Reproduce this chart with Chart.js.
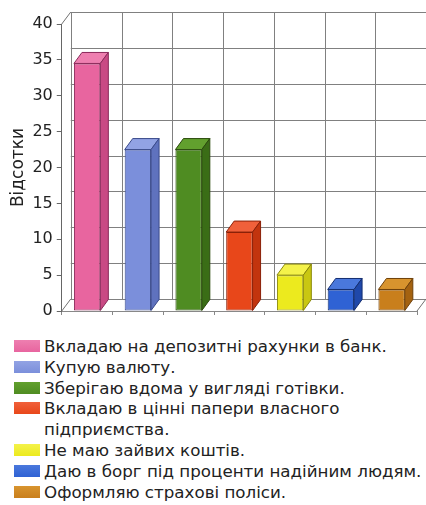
<!DOCTYPE html>
<html>
<head>
<meta charset="utf-8">
<script src="https://cdn.jsdelivr.net/npm/chart.js@4.4.0/dist/chart.umd.min.js"></script>
<style>
  body { margin: 0; background: #fff; font-family: "DejaVu Sans", sans-serif; }
  #wrap { width: 426px; height: 330px; }
  #legend { margin: 6px 0 0 14px; padding: 0; list-style: none; font-size: 16.7px; line-height: 20.8px; color: #222; white-space: nowrap; }
  #legend li { display: flex; align-items: flex-start; }
  #legend .sw { width: 26px; height: 12px; margin: 4px 4px 0 0; flex: none; }
</style>
</head>
<body>
<div id="wrap"><canvas id="chart" width="426" height="330"></canvas></div>
<ul id="legend"></ul>
<script>
  const categories = [
    "Вкладаю на депозитні рахунки в банк.",
    "Купую валюту.",
    "Зберігаю вдома у вигляді готівки.",
    ["Вкладаю в цінні папери власного", "підприємства."],
    "Не маю зайвих коштів.",
    "Даю в борг під проценти надійним людям.",
    "Оформляю страхові поліси."
  ];
  const percents = [34.5, 22.5, 22.5, 11, 5, 3, 3];
  const yMin = 0, yMax = 40, yStep = 5;
  const yTitle = "Відсотки";

  const frontColors = ['#e8659f', '#7b8fdb', '#4f8c22', '#e8471a', '#ecea1e', '#2f62d4', '#c97f1c'];
  const sideColors  = ['#c94a84', '#5f72be', '#3a6d16', '#c2340e', '#c9c712', '#1f48aa', '#a46210'];
  const topColors   = ['#ee7fb0', '#92a3e4', '#62a02e', '#f0603a', '#f4f24a', '#4a78dc', '#d8942e'];
  const edgeColors  = ['#8a2a5a', '#3a4a8a', '#2a4a0c', '#8a2008', '#8a8808', '#142e70', '#6e400a'];

  const wall = { dx: 9, dy: -12 };
  const barDepth = { dx: 8, dy: -11 };

  function seg(ctx, x1, y1, x2, y2) {
    ctx.beginPath();
    ctx.moveTo(x1, y1);
    ctx.lineTo(x2, y2);
    ctx.stroke();
  }

  // back wall, floor and depth faces of the bars
  const box3d = {
    id: 'box3d',
    beforeDatasetsDraw(chart) {
      const { ctx, chartArea: a, scales: { x, y } } = chart;
      ctx.save();
      ctx.lineWidth = 1;
      ctx.strokeStyle = '#808080';
      y.ticks.forEach(t => {
        const py = Math.round(y.getPixelForValue(t.value) + wall.dy) + 0.5;
        seg(ctx, a.left + wall.dx, py, a.right + wall.dx, py);
      });
      for (let i = 0; i <= categories.length; i++) {
        const px = Math.round(x.getPixelForValue(i - 0.5) + wall.dx) + 0.5;
        seg(ctx, px, a.top + wall.dy, px, a.bottom + wall.dy);
      }
      ctx.strokeStyle = '#707070';
      seg(ctx, a.left, a.top, a.left + wall.dx, a.top + wall.dy);
      seg(ctx, a.left, a.bottom, a.left + wall.dx, a.bottom + wall.dy);
      seg(ctx, a.right, a.bottom, a.right + wall.dx, a.bottom + wall.dy);
      ctx.restore();
    },
    afterDatasetsDraw(chart) {
      const { ctx } = chart;
      const meta = chart.getDatasetMeta(0);
      ctx.save();
      ctx.lineWidth = 1;
      meta.data.forEach((bar, i) => {
        const { x: cx, y: top, base, width } = bar.getProps(['x', 'y', 'base', 'width'], true);
        const l = cx - width / 2, r = cx + width / 2;
        ctx.strokeStyle = edgeColors[i];
        // top face
        ctx.beginPath();
        ctx.moveTo(l, top);
        ctx.lineTo(l + barDepth.dx, top + barDepth.dy);
        ctx.lineTo(r + barDepth.dx, top + barDepth.dy);
        ctx.lineTo(r, top);
        ctx.closePath();
        ctx.fillStyle = topColors[i];
        ctx.fill();
        ctx.stroke();
        // side face
        ctx.beginPath();
        ctx.moveTo(r, top);
        ctx.lineTo(r + barDepth.dx, top + barDepth.dy);
        ctx.lineTo(r + barDepth.dx, base + barDepth.dy);
        ctx.lineTo(r, base);
        ctx.closePath();
        ctx.fillStyle = sideColors[i];
        ctx.fill();
        ctx.stroke();
      });
      ctx.restore();
    }
  };

  const tickFont = { family: '"DejaVu Sans", sans-serif', size: 16 };
  const titleFont = { family: '"DejaVu Sans", sans-serif', size: 17 };

  new Chart(document.getElementById('chart'), {
    type: 'bar',
    data: {
      labels: categories,
      datasets: [{
        data: percents,
        backgroundColor: frontColors,
        borderColor: edgeColors,
        borderWidth: 1,
        borderSkipped: false,
        barPercentage: 0.52,
        categoryPercentage: 1
      }]
    },
    options: {
      responsive: false,
      animation: false,
      layout: { padding: { left: 8, right: 9, top: 24, bottom: 15 } },
      plugins: { legend: { display: false }, tooltip: { enabled: false } },
      scales: {
        x: {
          ticks: { display: false },
          grid: { drawOnChartArea: false, tickLength: 4, offset: true, color: '#888' },
          border: { color: '#888' }
        },
        y: {
          min: yMin,
          max: yMax,
          ticks: { stepSize: yStep, color: '#222', font: tickFont, padding: 4 },
          grid: { drawOnChartArea: false, tickLength: 5, color: '#666' },
          border: { color: '#666' },
          title: { display: true, text: yTitle, color: '#222', font: titleFont, padding: 0 }
        }
      }
    },
    plugins: [box3d]
  });

  const legend = document.getElementById('legend');
  categories.forEach((label, i) => {
    const li = document.createElement('li');
    const sw = document.createElement('span');
    sw.className = 'sw';
    sw.style.background = `linear-gradient(${topColors[i]}, ${frontColors[i]})`;
    const txt = document.createElement('span');
    txt.innerHTML = [].concat(label).join('<br>');
    li.appendChild(sw);
    li.appendChild(txt);
    legend.appendChild(li);
  });
</script>
</body>
</html>
